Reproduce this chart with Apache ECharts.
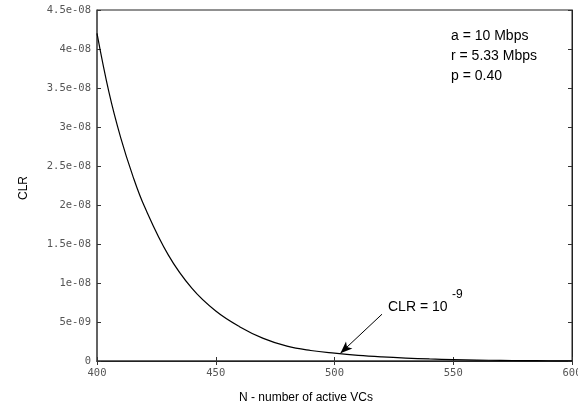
<!DOCTYPE html>
<html><head><meta charset="utf-8">
<script src="https://cdn.jsdelivr.net/npm/echarts@6/dist/echarts.min.js"></script>
<style>html,body{margin:0;padding:0;background:#fff}#c{width:578px;height:410px}</style>
</head><body><div id="c"></div>
<script>
const nValues   = [400, 405, 410, 415, 420, 430, 440, 450, 460, 470, 480, 490, 500, 510, 520, 530, 540, 550, 560, 570, 580, 590, 600];
const clrValues = [4.20e-8, 3.45e-8, 2.86e-8, 2.38e-8, 1.98e-8, 1.36e-8, 0.93e-8, 0.64e-8, 0.44e-8, 0.29e-8, 0.19e-8, 0.135e-8, 0.10e-8, 0.072e-8, 0.052e-8, 0.037e-8, 0.026e-8, 0.018e-8, 0.012e-8, 0.008e-8, 0.005e-8, 0.003e-8, 0.002e-8];
const xTickLabels = ['400', '450', '500', '550', '600'];
const yTickLabels = ['0', '5e-09', '1e-08', '1.5e-08', '2e-08', '2.5e-08', '3e-08', '3.5e-08', '4e-08', '4.5e-08'];
const paramLines = ['a = 10 Mbps', 'r = 5.33 Mbps', 'p = 0.40'];
const arrowFrom = [520, 0.6e-8];
const arrowTo = [502.5, 0.1e-8];

const chart = echarts.init(document.getElementById('c'));
const tickFont = {fontFamily: 'DejaVu Sans Mono', fontSize: 10.5, color: '#555'};
const frameLine = {show: true, lineStyle: {color: '#222', width: 1}};
const inTick = {show: true, inside: true, length: 4, lineStyle: {color: '#333'}};
chart.setOption({
  animation: false,
  backgroundColor: '#fff',
  grid: {left: 97, right: 6, top: 10, bottom: 49, outerBoundsMode: 'none', containLabel: false,
         show: true, borderColor: '#222', borderWidth: 1, backgroundColor: 'transparent'},
  xAxis: [
    {type: 'value', min: 400, max: 600, interval: 50, position: 'bottom',
     axisLine: {show: true, lineStyle: {color: '#555', width: 1.5}}, axisTick: inTick, splitLine: {show: false},
     axisLabel: Object.assign({margin: 7, showMinLabel: true, showMaxLabel: true,
       formatter: (v, i) => xTickLabels[i]}, tickFont)},
    {type: 'value', min: 400, max: 600, interval: 50, position: 'top',
     axisLine: frameLine, axisTick: inTick, splitLine: {show: false}, axisLabel: {show: false}}
  ],
  yAxis: [
    {type: 'value', min: 0, max: 4.5e-8, interval: 0.5e-8, position: 'left',
     axisLine: {show: true, lineStyle: {color: '#555', width: 1.5}}, axisTick: inTick, splitLine: {show: false},
     axisLabel: Object.assign({margin: 6, formatter: (v, i) => yTickLabels[i]}, tickFont)},
    {type: 'value', min: 0, max: 4.5e-8, interval: 0.5e-8, position: 'right',
     axisLine: frameLine, axisTick: inTick, splitLine: {show: false}, axisLabel: {show: false}}
  ],
  series: [{
    type: 'line',
    data: nValues.map((n, i) => [n, clrValues[i]]),
    smooth: 0.4,
    showSymbol: false,
    lineStyle: {color: '#000', width: 1.2},
    itemStyle: {color: '#000'},
    markLine: {
      silent: true, animation: false,
      symbol: ['none', 'arrow'], symbolSize: [7, 12],
      lineStyle: {color: '#000', width: 1, type: 'solid'},
      label: {show: false},
      data: [[{coord: arrowFrom}, {coord: arrowTo}]]
    }
  }, {
    type: 'line', xAxisIndex: 1, yAxisIndex: 1, data: [], silent: true, showSymbol: false
  }],
  graphic: [
    {type: 'text', left: 451, top: 29, style: {text: paramLines[0], font: '14px "Liberation Sans", Arial', fill: '#000'}},
    {type: 'text', left: 451, top: 49, style: {text: paramLines[1], font: '14px "Liberation Sans", Arial', fill: '#000'}},
    {type: 'text', left: 451, top: 69, style: {text: paramLines[2], font: '14px "Liberation Sans", Arial', fill: '#000'}},
    {type: 'text', left: 388, top: 300, style: {text: 'CLR = 10', font: '14px "Liberation Sans", Arial', fill: '#000'}},
    {type: 'text', left: 452, top: 289, style: {text: '-9', font: '12px "Liberation Sans", Arial', fill: '#000'}},
    {type: 'text', x: 24, y: 188, rotation: Math.PI / 2,
     style: {text: 'CLR', font: '12px "Liberation Sans", Arial', fill: '#000', align: 'center', verticalAlign: 'middle'}},
    {type: 'text', x: 306, y: 398,
     style: {text: 'N - number of active VCs', font: '12px "Liberation Sans", Arial', fill: '#000', align: 'center', verticalAlign: 'middle'}}
  ]
});
</script></body></html>
